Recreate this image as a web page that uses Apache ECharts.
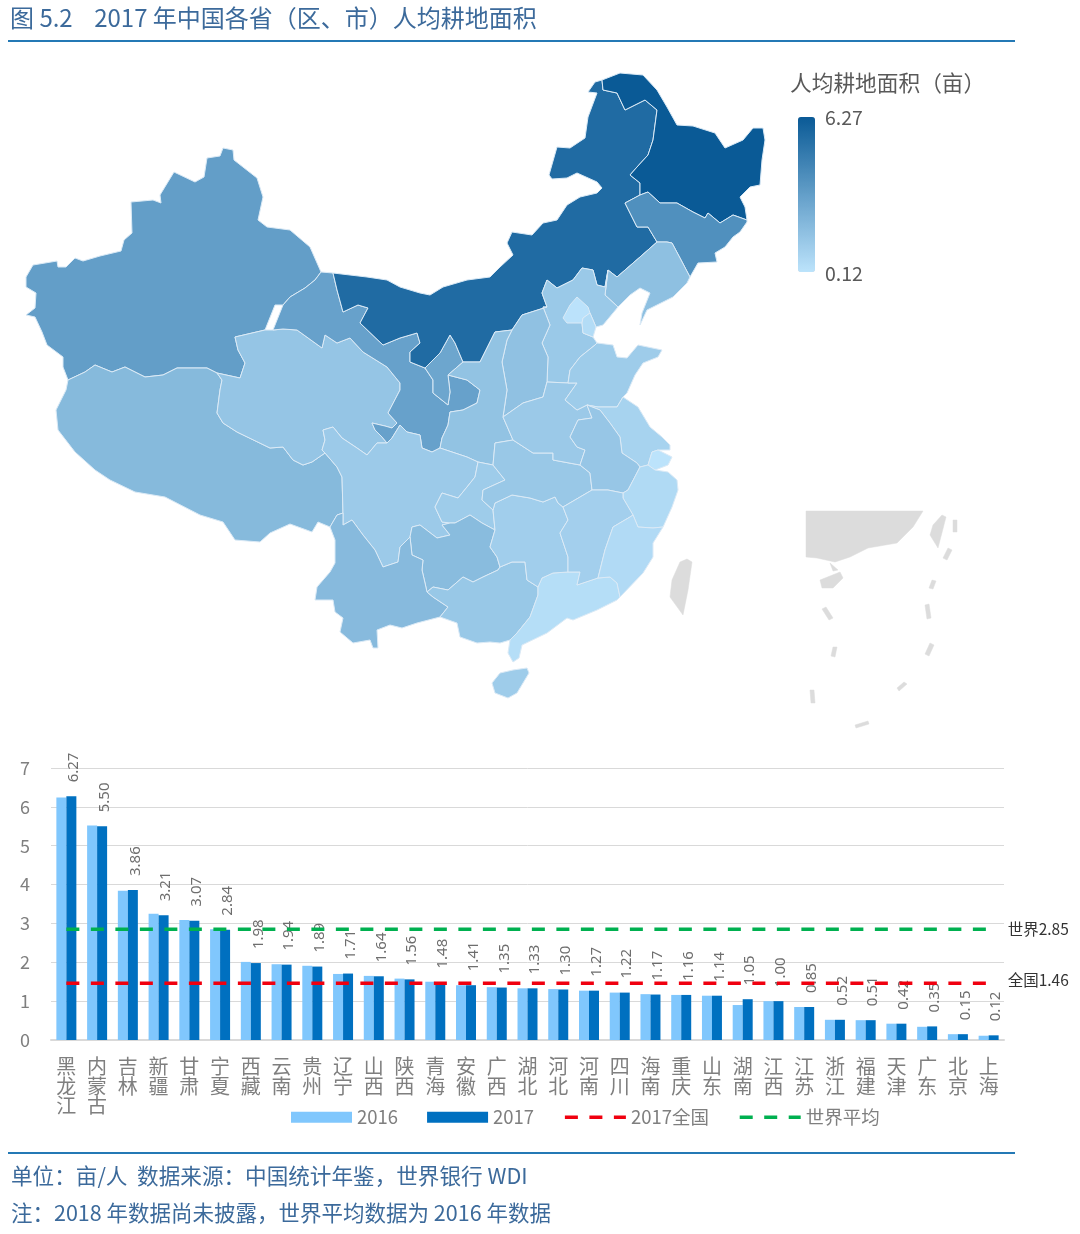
<!DOCTYPE html>
<html>
<head>
<meta charset="utf-8">
<title>人均耕地面积</title>
<script src="https://cdn.jsdelivr.net/npm/echarts@6/dist/echarts.min.js"></script>
<style>
html,body{margin:0;padding:0;background:#fff}
#main{width:1080px;height:1234px}
</style>
</head>
<body>
<div id="main"></div>
<script>
var provinces = ['黑龙江','内蒙古','吉林','新疆','甘肃','宁夏','西藏','云南','贵州','辽宁','山西','陕西','青海','安徽','广西','湖北','河北','河南','四川','海南','重庆','山东','湖南','江西','江苏','浙江','福建','天津','广东','北京','上海'];
var values2016 = [6.24,5.52,3.84,3.25,3.09,2.85,2.01,1.95,1.91,1.70,1.65,1.58,1.50,1.41,1.36,1.33,1.31,1.27,1.22,1.18,1.16,1.14,0.90,1.00,0.85,0.52,0.51,0.42,0.34,0.15,0.11];
var values2017 = [6.27,5.50,3.86,3.21,3.07,2.84,1.98,1.94,1.89,1.71,1.64,1.56,1.48,1.41,1.35,1.33,1.30,1.27,1.22,1.17,1.16,1.14,1.05,1.00,0.85,0.52,0.51,0.42,0.35,0.15,0.12];
var national2017 = [1.46,1.46,1.46,1.46,1.46,1.46,1.46,1.46,1.46,1.46,1.46,1.46,1.46,1.46,1.46,1.46,1.46,1.46,1.46,1.46,1.46,1.46,1.46,1.46,1.46,1.46,1.46,1.46,1.46,1.46,1.46];
var worldAvg = [2.85,2.85,2.85,2.85,2.85,2.85,2.85,2.85,2.85,2.85,2.85,2.85,2.85,2.85,2.85,2.85,2.85,2.85,2.85,2.85,2.85,2.85,2.85,2.85,2.85,2.85,2.85,2.85,2.85,2.85,2.85];
var seriesNames = ['2016','2017','2017全国','世界平均'];
var scaleMin = 0.12, scaleMax = 6.27;

// 没有现成的地图数据，省界是照着原图手描的，坐标就是页面像素
var outlines = {
  '新疆':[[26,277],[33,265],[57,261],[58,267],[66,267],[75,258],[83,261],[100,256],[121,251],[124,240],[132,233],[131,202],[153,200],[161,203],[160,195],[174,172],[195,182],[204,177],[207,158],[220,156],[223,148],[233,150],[234,160],[257,178],[263,197],[258,220],[267,227],[290,230],[310,247],[321,272],[315,280],[305,288],[290,297],[283,305],[275,305],[265,330],[235,337],[238,350],[245,363],[240,378],[217,373],[207,368],[177,368],[163,375],[145,377],[125,367],[112,372],[95,365],[85,372],[68,380],[63,367],[63,357],[47,345],[42,332],[35,317],[26,315],[35,308],[36,293],[26,287]],
  '西藏':[[68,380],[85,372],[95,365],[112,372],[125,367],[145,377],[163,375],[177,368],[207,368],[217,373],[222,380],[220,390],[217,413],[223,423],[237,432],[270,448],[283,447],[293,460],[303,465],[312,462],[325,453],[337,467],[342,477],[343,513],[337,515],[330,527],[318,522],[312,532],[290,524],[270,533],[260,542],[235,540],[223,522],[200,515],[165,497],[135,492],[110,480],[95,470],[75,452],[58,430],[56,410],[66,390]],
  '青海':[[235,337],[265,330],[273,330],[283,329],[297,330],[322,348],[325,335],[337,343],[350,338],[363,352],[387,367],[400,383],[400,390],[388,413],[397,423],[392,428],[385,426],[372,423],[375,430],[382,437],[387,443],[377,443],[367,455],[357,448],[342,438],[333,427],[323,430],[325,440],[322,450],[325,453],[312,462],[303,465],[293,460],[283,447],[270,448],[237,432],[223,423],[217,413],[220,390],[222,380],[217,373],[240,378],[245,363],[238,350]],
  '甘肃':[[321,272],[333,273],[337,290],[343,312],[358,305],[368,308],[360,323],[383,345],[400,338],[417,333],[420,343],[410,352],[410,362],[425,368],[433,380],[433,393],[448,405],[450,392],[448,375],[467,380],[480,390],[477,403],[463,410],[450,412],[448,425],[442,438],[440,448],[432,452],[422,448],[420,435],[407,432],[400,425],[392,438],[387,443],[382,437],[375,430],[372,423],[385,426],[392,428],[397,423],[388,413],[400,390],[400,383],[387,367],[363,352],[350,338],[337,343],[325,335],[322,348],[297,330],[283,329],[273,330],[283,305],[290,297],[305,288],[315,280]],
  '宁夏':[[450,335],[455,343],[463,362],[448,375],[450,392],[448,405],[433,393],[433,380],[425,368],[440,353]],
  '内蒙古':[[333,273],[367,277],[387,280],[400,287],[420,293],[430,295],[443,287],[467,280],[490,277],[500,267],[513,255],[507,243],[512,232],[532,235],[543,223],[557,220],[567,205],[580,197],[597,193],[602,188],[597,182],[577,173],[567,178],[552,179],[549,175],[557,147],[570,148],[585,138],[588,117],[597,93],[588,92],[595,82],[602,80],[603,90],[617,93],[625,110],[645,100],[657,110],[653,140],[648,155],[637,167],[630,175],[640,183],[640,195],[625,203],[637,227],[648,227],[657,242],[640,257],[617,277],[608,270],[605,287],[597,285],[593,270],[582,268],[573,280],[557,288],[547,280],[542,293],[547,307],[522,315],[512,330],[495,332],[480,362],[463,362],[455,343],[450,335],[440,353],[425,368],[410,362],[410,352],[420,343],[417,333],[400,338],[383,345],[360,323],[368,308],[358,305],[343,312],[337,290]],
  '黑龙江':[[602,80],[620,73],[643,75],[657,90],[667,107],[677,125],[693,126],[715,133],[725,148],[743,140],[753,128],[763,128],[765,140],[762,160],[760,185],[750,187],[740,197],[745,207],[747,220],[733,215],[720,223],[708,213],[705,218],[693,212],[677,203],[660,203],[648,192],[640,195],[640,183],[630,175],[637,167],[648,155],[653,140],[657,110],[645,100],[625,110],[617,93],[603,90]],
  '吉林':[[625,203],[640,195],[648,192],[660,203],[677,203],[693,212],[705,218],[708,213],[720,223],[733,215],[747,220],[747,222],[740,232],[733,237],[725,247],[715,253],[717,262],[698,263],[690,277],[680,258],[672,243],[667,242],[657,242],[648,227],[637,227]],
  '辽宁':[[608,270],[617,277],[640,257],[657,242],[667,242],[672,243],[680,258],[690,277],[687,283],[673,297],[647,310],[640,325],[642,313],[650,293],[640,288],[630,295],[618,307],[605,295]],
  '河北':[[547,280],[557,288],[573,280],[582,268],[593,270],[597,285],[605,287],[608,270],[605,295],[618,307],[613,313],[603,325],[596,327],[590,313],[583,318],[582,323],[583,333],[593,337],[597,343],[595,345],[580,357],[570,370],[568,383],[547,382],[548,357],[542,343],[550,325],[543,307],[547,307],[542,293]],
  '北京':[[577,297],[588,307],[590,313],[583,318],[582,323],[567,323],[563,318],[570,305]],
  '天津':[[590,313],[596,327],[593,337],[583,333],[582,323],[583,318]],
  '山西':[[512,330],[522,315],[547,307],[543,307],[550,325],[542,343],[548,357],[547,382],[543,397],[523,403],[503,417],[507,390],[502,362],[507,340]],
  '陕西':[[463,362],[480,362],[495,332],[512,330],[507,340],[502,362],[507,390],[503,417],[513,440],[495,443],[493,465],[478,462],[467,457],[440,448],[442,438],[448,425],[450,412],[463,410],[477,403],[480,390],[467,380],[448,375]],
  '四川':[[325,453],[322,450],[325,440],[323,430],[333,427],[342,438],[357,448],[367,455],[377,443],[387,443],[392,438],[400,425],[407,432],[420,435],[422,448],[432,452],[440,448],[467,457],[478,462],[475,477],[467,487],[458,498],[442,493],[435,507],[442,522],[450,523],[442,525],[450,535],[437,538],[420,525],[412,527],[410,537],[400,547],[398,562],[383,567],[375,550],[363,535],[352,520],[343,525],[343,513],[342,477],[337,467]],
  '重庆':[[478,462],[493,465],[505,480],[483,490],[482,500],[493,510],[495,530],[482,523],[470,515],[455,523],[450,523],[442,522],[435,507],[442,493],[458,498],[467,487],[475,477]],
  '贵州':[[412,527],[420,525],[437,538],[450,535],[442,525],[450,523],[455,523],[470,515],[482,523],[495,530],[490,547],[497,557],[500,567],[498,570],[483,577],[473,582],[463,577],[448,590],[433,587],[427,592],[425,583],[422,570],[423,560],[412,555],[410,537]],
  '云南':[[343,513],[343,525],[352,520],[363,535],[375,550],[383,567],[398,562],[400,547],[410,537],[412,555],[423,560],[422,570],[425,583],[427,592],[433,597],[448,607],[440,617],[417,623],[402,628],[390,625],[377,630],[378,648],[373,648],[370,640],[353,643],[340,632],[343,618],[335,612],[333,600],[315,600],[317,587],[330,572],[335,563],[335,540],[330,527],[337,515]],
  '广西':[[427,592],[433,587],[448,590],[463,577],[473,582],[483,577],[498,570],[500,567],[512,562],[525,562],[527,580],[538,587],[538,595],[530,617],[517,633],[510,640],[500,643],[490,642],[477,643],[460,637],[457,623],[440,617],[448,607],[433,597]],
  '广东':[[538,587],[542,578],[553,573],[568,572],[580,572],[577,585],[598,578],[610,577],[617,583],[620,597],[617,600],[597,610],[573,620],[567,618],[547,633],[522,645],[519,658],[513,662],[508,653],[510,640],[517,633],[530,617],[538,595]],
  '海南':[[527,668],[529,673],[517,693],[508,698],[495,693],[492,683],[500,673],[513,670]],
  '湖南':[[495,503],[512,495],[530,498],[543,502],[555,497],[558,503],[563,507],[568,520],[560,533],[568,557],[568,572],[553,573],[542,578],[538,587],[527,580],[525,562],[512,562],[500,567],[497,557],[490,547],[495,530],[493,510]],
  '湖北':[[495,443],[513,440],[533,453],[553,453],[553,460],[580,465],[590,473],[592,490],[563,507],[558,503],[555,497],[543,502],[530,498],[512,495],[495,503],[493,510],[482,500],[483,490],[505,480],[493,465]],
  '河南':[[503,417],[523,403],[543,397],[547,382],[568,383],[577,383],[565,400],[577,410],[587,405],[592,418],[578,420],[570,437],[577,447],[585,450],[580,465],[553,460],[553,453],[533,453],[513,440]],
  '山东':[[595,345],[597,343],[613,345],[617,357],[627,358],[638,345],[662,350],[658,357],[643,363],[635,375],[627,393],[623,397],[617,407],[598,407],[587,405],[577,410],[565,400],[577,383],[568,383],[570,370],[580,357]],
  '江苏':[[587,405],[598,407],[617,407],[623,397],[638,407],[650,427],[662,437],[670,445],[670,450],[658,450],[652,452],[648,465],[640,467],[637,463],[622,453],[620,437],[610,423],[600,410]],
  '上海':[[652,452],[658,450],[672,457],[668,465],[655,470],[648,465]],
  '安徽':[[587,405],[600,410],[610,423],[620,437],[622,453],[637,463],[640,467],[628,490],[623,493],[608,490],[592,490],[590,473],[580,465],[585,450],[577,447],[570,437],[578,420],[592,418]],
  '浙江':[[640,467],[648,465],[655,470],[668,472],[677,480],[678,490],[672,507],[663,527],[653,528],[638,527],[633,515],[623,498],[623,493],[628,490]],
  '江西':[[592,490],[608,490],[623,493],[623,498],[633,515],[630,517],[613,527],[605,550],[598,578],[577,585],[580,572],[568,572],[568,557],[560,533],[568,520],[563,507]],
  '福建':[[633,515],[638,527],[653,528],[663,527],[653,543],[653,557],[643,573],[620,597],[617,583],[610,577],[598,578],[605,550],[613,527],[630,517]]
};
// 灰色部分：台湾和右下角南海小图
var greyOutlines = {
  '台湾':[[680,562],[687,559],[692,562],[688,590],[683,615],[670,597],[672,580]],
  '南海大陆':[[806,511],[923,511],[913,527],[897,543],[868,548],[850,557],[835,562],[817,558],[806,557]],
  '南海海南':[[820,580],[840,572],[843,578],[833,588],[822,588]],
  '南海雷州':[[830,563],[838,570],[833,571]],
  '南海台湾':[[942,515],[946,517],[938,548],[930,535],[933,525]],
  '断续线1':[[953,520],[957,520],[957,532],[953,532]],
  '断续线2':[[948,548],[952,550],[947,560],[943,558]],
  '断续线3':[[932,580],[936,581],[933,589],[929,588]],
  '断续线4':[[925,605],[929,604],[931,618],[927,619]],
  '断续线5':[[930,643],[934,645],[929,656],[925,654]],
  '断续线6':[[904,682],[907,684],[899,691],[897,688]],
  '断续线7':[[855,725],[868,721],[869,724],[856,728]],
  '断续线8':[[810,690],[814,690],[815,703],[811,703]],
  '断续线9':[[833,647],[837,647],[835,657],[831,656]],
  '断续线10':[[822,609],[826,607],[833,618],[829,620]]
};

function toFeature(name, ring) {
  return {type:'Feature', properties:{name:name}, geometry:{type:'Polygon', coordinates:[ring.concat([ring[0]])]}};
}
var features = [], minX = 1e9, minY = 1e9, maxX = -1e9, maxY = -1e9;
[outlines, greyOutlines].forEach(function (group) {
  Object.keys(group).forEach(function (name) {
    features.push(toFeature(name, group[name]));
    group[name].forEach(function (p) {
      minX = Math.min(minX, p[0]); maxX = Math.max(maxX, p[0]);
      minY = Math.min(minY, p[1]); maxY = Math.max(maxY, p[1]);
    });
  });
});
// 不能叫 china，否则 ECharts 会自动补南海诸岛
echarts.registerMap('provinceMap', {type:'FeatureCollection', features:features});

var mapData = provinces.map(function (name, i) {
  return {name:name, value:values2017[i]};
});
var greyStyle = {areaColor:'#dcdcdc', borderColor:'#dcdcdc', borderWidth:0.5};
Object.keys(greyOutlines).forEach(function (name) {
  mapData.push({name:name, value:NaN, itemStyle:greyStyle});
});

var cjk = '"Noto Sans CJK SC","Noto Sans",sans-serif';
var blueText = '#3c6a9b';
var greyText = '#7f7f7f';

function textTitle(text, left, top, color, size) {
  return {text:text, left:left, top:top, padding:0, textStyle:{color:color, fontSize:size, fontWeight:'normal', fontFamily:cjk}};
}

var myChart = echarts.init(document.getElementById('main'));
var option = {
  backgroundColor:'#fff',
  animation:false,
  textStyle:{fontFamily:cjk},
  title:[
    textTitle('图 5.2    2017 年中国各省（区、市）人均耕地面积', 10, 6, blueText, 24),
    textTitle('人均耕地面积（亩）', 790, 72, '#595959', 21.7),
    textTitle(scaleMax.toFixed(2), 825, 108, '#595959', 19.5),
    textTitle(scaleMin.toFixed(2), 825, 264, '#595959', 19.5),
    textTitle('单位：亩/人  数据来源：中国统计年鉴，世界银行 WDI', 11, 1165, blueText, 21.6),
    textTitle('注：2018 年数据尚未披露，世界平均数据为 2016 年数据', 11, 1202, blueText, 21.5)
  ],
  graphic:[
    {type:'line', shape:{x1:8, y1:41, x2:1015, y2:41}, style:{stroke:'#2479b5', lineWidth:2}},
    {type:'line', shape:{x1:8, y1:1153, x2:1015, y2:1153}, style:{stroke:'#2479b5', lineWidth:2}}
  ],
  visualMap:{
    type:'continuous',
    seriesIndex:0,
    min:scaleMin,
    max:scaleMax,
    left:798,
    top:117,
    padding:0,
    itemWidth:17,
    itemHeight:155,
    calculable:false,
    text:null,
    inRange:{color:['#bce3fb','#0a5a96']}
  },
  legend:{
    data:[
      {name:seriesNames[0], icon:'rect'},
      {name:seriesNames[1], icon:'rect'},
      {name:seriesNames[2], itemStyle:{opacity:0}},
      {name:seriesNames[3], itemStyle:{opacity:0}}
    ],
    left:291,
    top:1108,
    padding:0,
    itemWidth:61,
    itemHeight:11,
    itemGap:29,
    lineStyle:{width:3.5},
    textStyle:{color:greyText, fontSize:18.5}
  },
  grid:{left:51, top:768, width:953, height:272},
  xAxis:{
    type:'category',
    data:provinces,
    axisTick:{show:false},
    axisLine:{lineStyle:{color:'#d9d9d9', width:2}},
    axisLabel:{
      interval:0,
      margin:17,
      color:greyText,
      fontSize:20,
      lineHeight:19.5,
      formatter:function (v) { return v.split('').join('\n'); }
    }
  },
  yAxis:{
    type:'value',
    min:0,
    max:7,
    interval:1,
    axisLine:{show:false},
    axisTick:{show:false},
    splitLine:{lineStyle:{color:'#d9d9d9', width:1}},
    axisLabel:{margin:21, color:greyText, fontSize:18}
  },
  series:[
    {
      type:'map',
      map:'provinceMap',
      projection:{project:function (p) { return p; }, unproject:function (p) { return p; }},
      left:minX,
      top:minY,
      width:maxX - minX,
      height:maxY - minY,
      roam:false,
      silent:true,
      selectedMode:false,
      showLegendSymbol:false,
      label:{show:false},
      emphasis:{disabled:true},
      itemStyle:{areaColor:'#dcdcdc', borderColor:'#dbeaf6', borderWidth:1},
      data:mapData
    },
    {
      name:seriesNames[0],
      type:'bar',
      barWidth:10,
      barGap:0,
      itemStyle:{color:'#80c7fd'},
      data:values2016
    },
    {
      name:seriesNames[1],
      type:'bar',
      barWidth:10,
      itemStyle:{color:'#0070c0'},
      label:{
        show:true,
        position:'top',
        distance:14,
        rotate:90,
        align:'left',
        verticalAlign:'middle',
        offset:[0,2.5],
        color:'#6e6e6e',
        fontSize:15,
        fontFamily:'"Noto Sans",sans-serif',
        formatter:function (p) { return p.value.toFixed(2); }
      },
      data:values2017
    },
    {
      name:seriesNames[2],
      type:'line',
      symbol:'none',
      z:5,
      lineStyle:{color:'#f0000f', width:3.5, type:[13,11.5]},
      itemStyle:{color:'#f0000f'},
      endLabel:{show:true, distance:19, offset:[0,-3], color:'#333', fontSize:15.5, formatter:function (p) { return '全国' + p.value; }},
      data:national2017
    },
    {
      name:seriesNames[3],
      type:'line',
      symbol:'none',
      z:5,
      lineStyle:{color:'#00b050', width:3.5, type:[13,11.5]},
      itemStyle:{color:'#00b050'},
      endLabel:{show:true, distance:19, color:'#333', fontSize:15.5, formatter:function (p) { return '世界' + p.value; }},
      data:worldAvg
    }
  ]
};
myChart.setOption(option);
</script>
</body>
</html>
